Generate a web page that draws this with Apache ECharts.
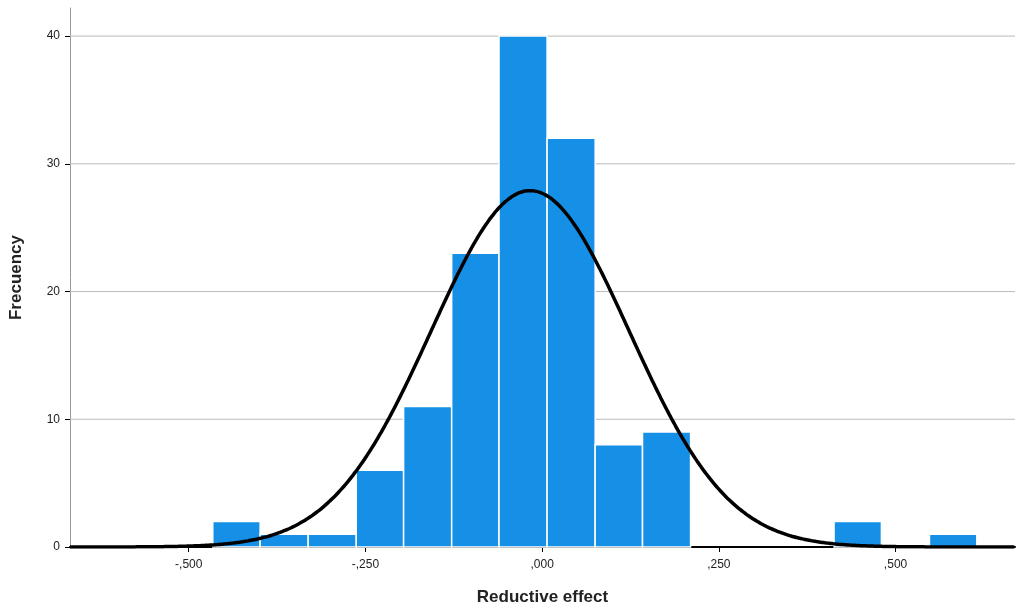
<!DOCTYPE html>
<html>
<head>
<meta charset="utf-8">
<script src="https://cdn.jsdelivr.net/npm/echarts@6/dist/echarts.min.js"></script>
<style>
html,body{margin:0;padding:0;background:#fff}
#chart{width:1017px;height:611px}
</style>
</head>
<body>
<div id="chart"></div>
<script>
// bin edges and counts (histogram)
var binStart = [-0.466, -0.399, -0.331, -0.263, -0.196, -0.128, -0.061, 0.007, 0.075, 0.142, 0.413, 0.548];
var binEnd   = [-0.399, -0.331, -0.263, -0.196, -0.128, -0.061, 0.007, 0.075, 0.142, 0.210, 0.480, 0.615];
var counts   = [2, 1, 1, 6, 11, 23, 40, 32, 8, 9, 2, 1];
var xTicks = [-0.5, -0.25, 0, 0.25, 0.5];
var yTicks = [0, 10, 20, 30, 40];
// fitted normal curve parameters
var curveMean = -0.017, curveSd = 0.14, curvePeak = 27.9;

var myChart = echarts.init(document.getElementById('chart'));

var barData = [];
for (var i = 0; i < counts.length; i++) {
    barData.push([binStart[i], binEnd[i], counts[i]]);
}
var curve = [];
for (var x = -0.668; x <= 0.669; x += 0.004) {
    var z = (x - curveMean) / curveSd;
    curve.push([x, curvePeak * Math.exp(-0.5 * z * z)]);
}

function fmt(v) {
    var s = Math.abs(v).toFixed(3).replace('.', ',');
    if (s.charAt(0) === '0') s = s.substring(1);
    return (v < 0 ? '-' : '') + s;
}

var option = {
    animation: false,
    grid: {left: 68, right: 2, top: 8, bottom: 63},
    xAxis: {
        type: 'value', min: -0.668, max: 0.669,
        name: 'Reductive effect', nameLocation: 'middle', nameGap: 42,
        nameTextStyle: {fontFamily: 'Arial, Liberation Sans', fontSize: 17, fontWeight: 'bold', color: '#222'},
        axisLine: {onZero: false, lineStyle: {color: '#000', width: 2}},
        axisTick: {show: true, customValues: xTicks, length: 5, lineStyle: {color: '#000'}},
        axisLabel: {customValues: xTicks, formatter: fmt, fontFamily: 'Arial, Liberation Sans', fontSize: 12, color: '#222', margin: 12},
        splitLine: {show: false}
    },
    yAxis: {
        type: 'value', min: 0, max: 42.2,
        name: 'Frecuency', nameLocation: 'middle', nameGap: 45,
        nameTextStyle: {fontFamily: 'Arial, Liberation Sans', fontSize: 17, fontWeight: 'bold', color: '#222'},
        axisLine: {show: true, onZero: false, lineStyle: {color: '#999'}},
        axisTick: {show: true, customValues: yTicks, length: 5, lineStyle: {color: '#000'}},
        axisLabel: {customValues: yTicks, fontFamily: 'Arial, Liberation Sans', fontSize: 12, color: '#222', margin: 10},
        splitLine: {show: false}
    },
    series: [
        {
            type: 'custom',
            renderItem: function (params, api) {
                // grid lines at y ticks
                var v = api.value(1);
                var p0 = api.coord([-0.668, v]);
                var p1 = api.coord([0.669, v]);
                return {type: 'line', shape: {x1: p0[0], y1: p0[1], x2: p1[0], y2: p1[1]},
                    style: {stroke: '#bbb', lineWidth: 1}};
            },
            data: yTicks.slice(1).map(function (t) { return [0, t]; }),
            z: 1
        },
        {
            type: 'custom',
            renderItem: function (params, api) {
                var a = api.coord([api.value(0), api.value(2)]);
                var b = api.coord([api.value(1), 0]);
                return {type: 'rect', shape: {x: a[0], y: a[1], width: b[0] - a[0], height: b[1] - a[1]},
                    style: {fill: '#1590e6', stroke: '#fff', lineWidth: 1.5}};
            },
            encode: {x: [0, 1], y: 2},
            data: barData,
            z: 2
        },
        {
            type: 'line', data: curve, showSymbol: false, smooth: true,
            lineStyle: {color: '#000', width: 3.5}, z: 3
        }
    ]
};
myChart.setOption(option);
</script>
</body>
</html>
